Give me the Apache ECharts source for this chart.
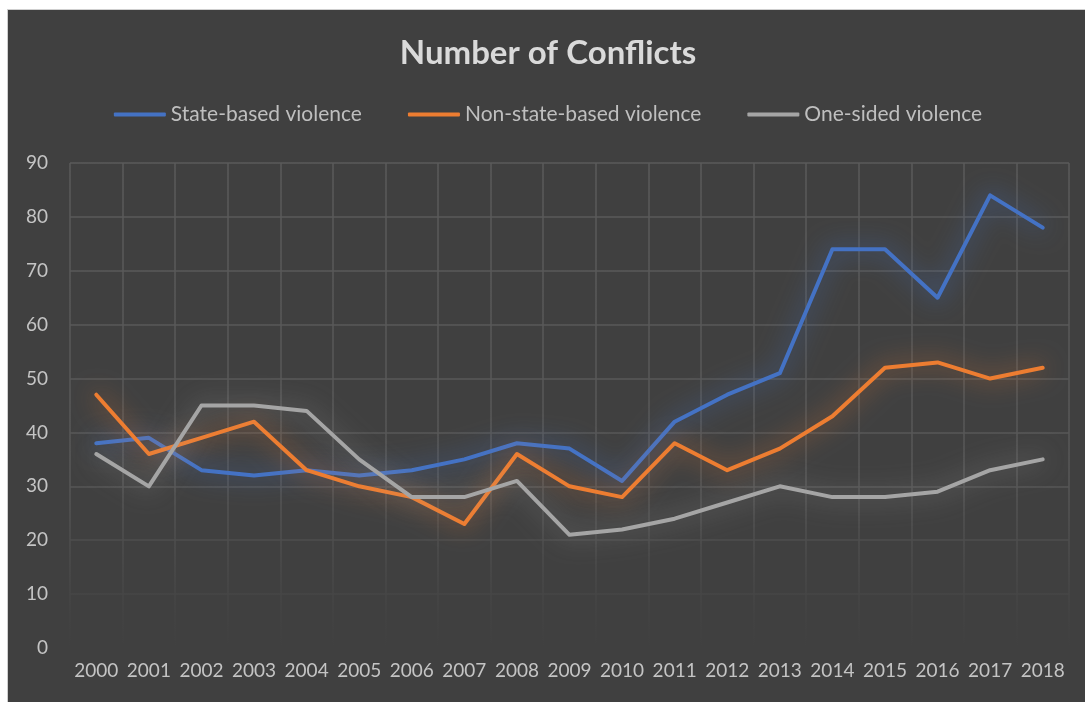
<!DOCTYPE html>
<html>
<head>
<meta charset="utf-8">
<script src="https://cdn.jsdelivr.net/npm/echarts@6/dist/echarts.min.js"></script>
<style>
  html, body { margin: 0; padding: 0; background: #ffffff; overflow: hidden; }
  #chart {
    position: absolute;
    left: 7px;
    top: 9px;
    width: 1080px;
    height: 695px;
    border: 1px solid #cfcfcf;
  }
</style>
</head>
<body>
<div id="chart"></div>
<script>
// 数据
const years = ['2000', '2001', '2002', '2003', '2004', '2005', '2006', '2007', '2008', '2009',
  '2010', '2011', '2012', '2013', '2014', '2015', '2016', '2017', '2018'];
const stateBased = [38, 39, 33, 32, 33, 32, 33, 35, 38, 37, 31, 42, 47, 51, 74, 74, 65, 84, 78];
const nonStateBased = [47, 36, 39, 42, 33, 30, 28, 23, 36, 30, 28, 38, 33, 37, 43, 52, 53, 50, 52];
const oneSided = [36, 30, 45, 45, 44, 35, 28, 28, 31, 21, 22, 24, 27, 30, 28, 28, 29, 33, 35];
const yTicks = [0, 10, 20, 30, 40, 50, 60, 70, 80, 90];

const font = 'Lato, "Noto Sans", sans-serif';
const gridTop = 153;
const gridHeight = 485;

// 网格线从上到下渐隐（类似 Excel 的效果）
const gridColor = {
  type: 'linear', global: true,
  x: 0, y: gridTop, x2: 0, y2: gridTop + gridHeight,
  colorStops: [
    { offset: 0, color: '#5a5a5a' },
    { offset: 0.65, color: '#575757' },
    { offset: 0.8, color: '#4c4c4c' },
    { offset: 0.93, color: '#434343' },
    { offset: 1, color: '#404040' }
  ]
};

function makeSeries(name, data, color, glow) {
  return {
    name: name,
    type: 'line',
    data: data,
    symbol: 'none',
    lineStyle: {
      color: color,
      width: 4,
      cap: 'round',
      join: 'round',
      shadowBlur: 24,
      shadowColor: glow
    },
    itemStyle: { color: color },
    emphasis: { disabled: true }
  };
}

const chart = echarts.init(document.getElementById('chart'));
chart.setOption({
  backgroundColor: '#404040',
  animation: false,
  title: {
    text: 'Number of Conflicts',
    left: 'center',
    top: 22,
    textStyle: { color: '#dadada', fontSize: 33, fontWeight: 'bold', fontFamily: font }
  },
  legend: {
    top: 89,
    left: 'center',
    itemWidth: 52,
    itemHeight: 4,
    itemGap: 46,
    icon: 'roundRect',
    textStyle: { color: '#bfbfbf', fontSize: 21, fontFamily: font },
    data: ['State-based violence', 'Non-state-based violence', 'One-sided violence']
  },
  grid: {
    left: 62,
    top: gridTop,
    width: 999,
    height: gridHeight
  },
  xAxis: {
    type: 'category',
    data: years,
    boundaryGap: true,
    axisLine: { show: false },
    axisTick: { show: false },
    axisLabel: { color: '#c4c4c4', fontSize: 19, fontFamily: font, margin: 13, interval: 0 },
    splitLine: { show: true, interval: 0, lineStyle: { color: gridColor, width: 1.5 } }
  },
  yAxis: {
    type: 'value',
    min: yTicks[0],
    max: yTicks[yTicks.length - 1],
    interval: 10,
    axisLine: { show: false },
    axisTick: { show: false },
    axisLabel: { color: '#c4c4c4', fontSize: 19, fontFamily: font, margin: 22 },
    splitLine: { lineStyle: { color: gridColor, width: 1.5 } }
  },
  series: [
    makeSeries('State-based violence', stateBased, '#4472c4', 'rgba(68,114,196,0.9)'),
    makeSeries('Non-state-based violence', nonStateBased, '#ed7d31', 'rgba(237,125,49,0.8)'),
    makeSeries('One-sided violence', oneSided, '#a5a5a5', 'rgba(165,165,165,0.65)')
  ]
});
</script>
</body>
</html>
